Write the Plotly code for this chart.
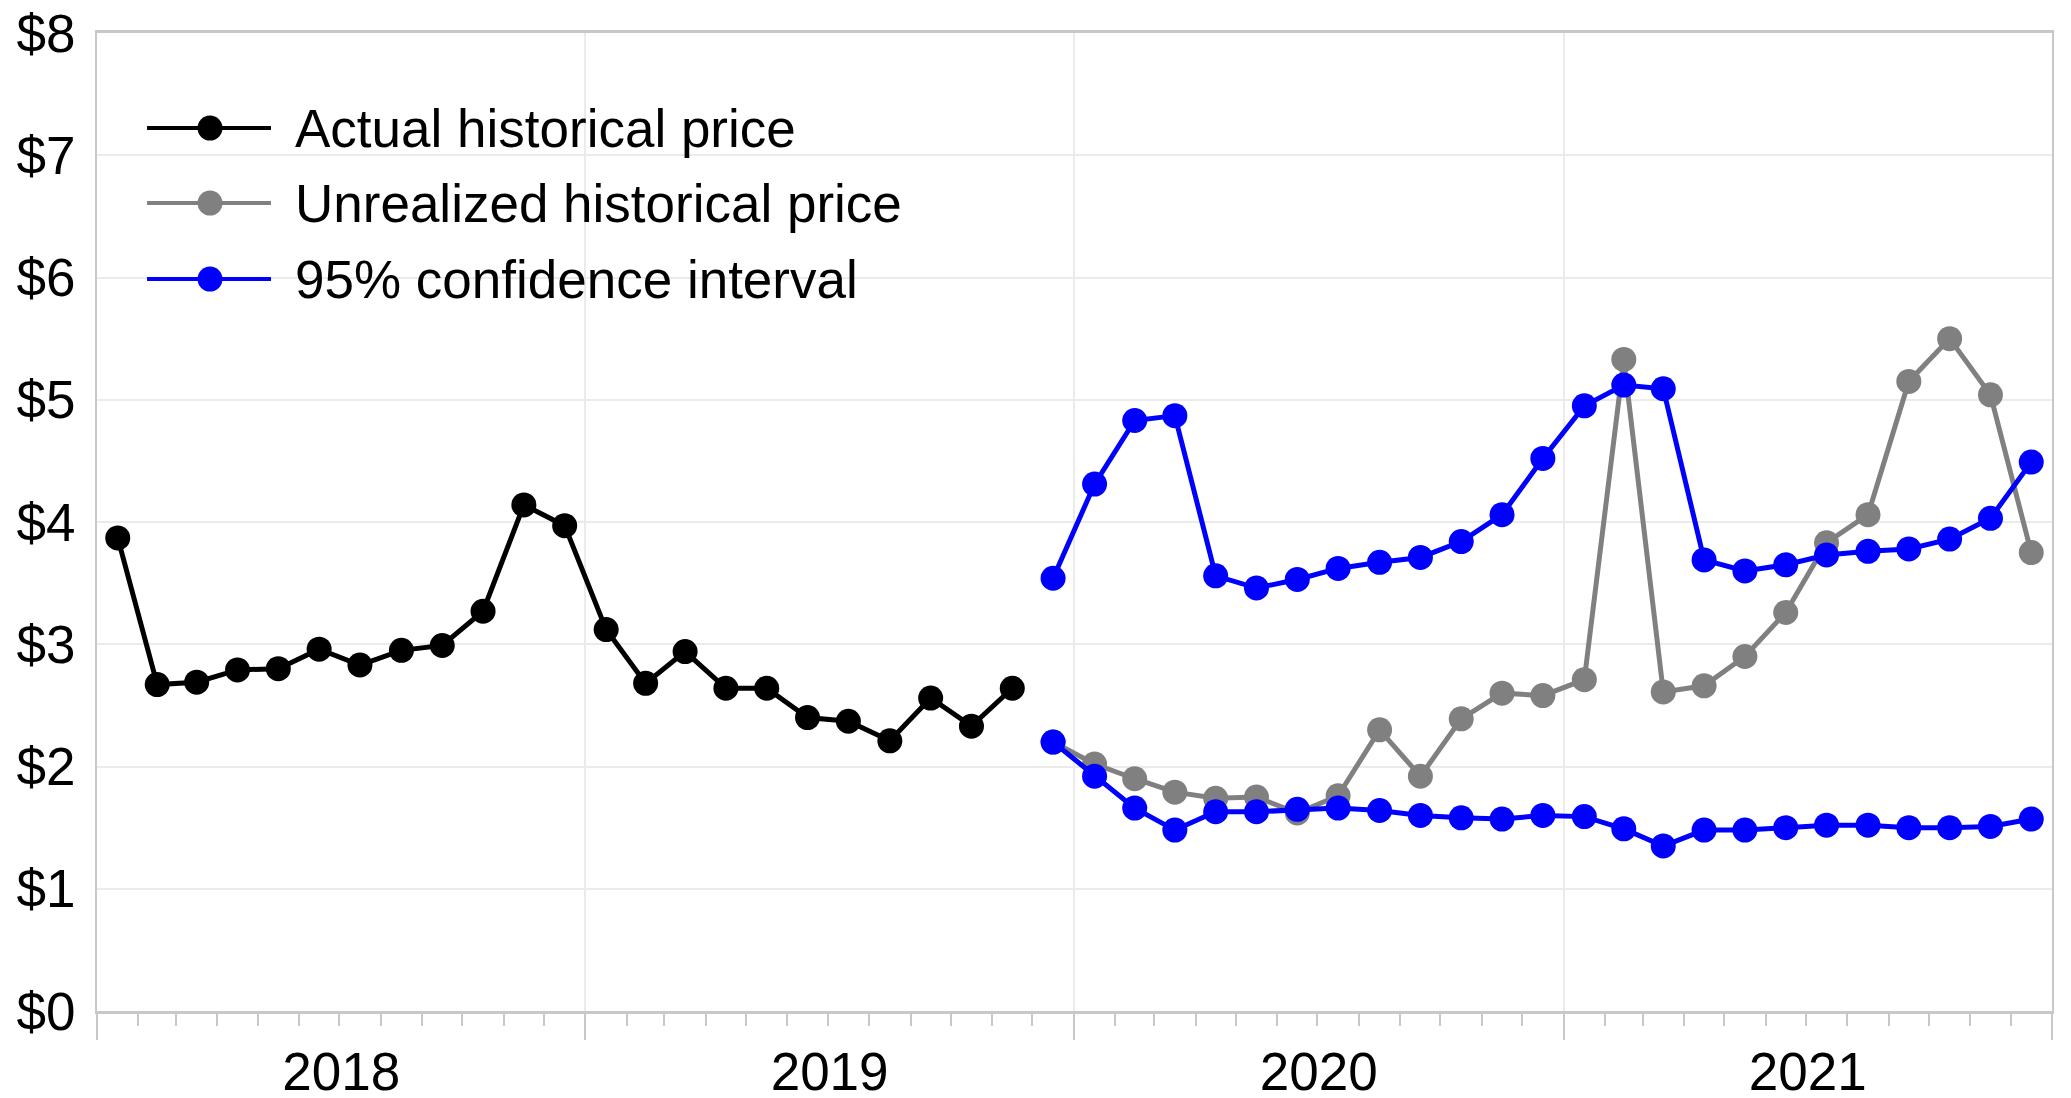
import plotly.graph_objects as go

# ---- data ----
actual_months = ["2018-01", "2018-02", "2018-03", "2018-04", "2018-05", "2018-06",
                 "2018-07", "2018-08", "2018-09", "2018-10", "2018-11", "2018-12",
                 "2019-01", "2019-02", "2019-03", "2019-04", "2019-05", "2019-06",
                 "2019-07", "2019-08", "2019-09", "2019-10", "2019-11"]
actual_price = [3.87, 2.67, 2.69, 2.79, 2.80, 2.96, 2.83, 2.95, 2.99, 3.27, 4.14, 3.97,
                3.12, 2.68, 2.94, 2.64, 2.64, 2.40, 2.37, 2.21, 2.56, 2.33, 2.64]

forecast_months = ["2019-12",
                   "2020-01", "2020-02", "2020-03", "2020-04", "2020-05", "2020-06",
                   "2020-07", "2020-08", "2020-09", "2020-10", "2020-11", "2020-12",
                   "2021-01", "2021-02", "2021-03", "2021-04", "2021-05", "2021-06",
                   "2021-07", "2021-08", "2021-09", "2021-10", "2021-11", "2021-12"]
unrealized_price = [2.20, 2.02, 1.90, 1.79, 1.74, 1.75, 1.62, 1.76, 2.30, 1.92, 2.39, 2.60,
                    2.58, 2.71, 5.33, 2.61, 2.66, 2.90, 3.26, 3.83, 4.06, 5.15, 5.50, 5.04, 3.75]
ci_upper = [3.54, 4.31, 4.83, 4.87, 3.56, 3.46, 3.53, 3.62, 3.67, 3.71, 3.84, 4.06,
            4.52, 4.95, 5.12, 5.09, 3.69, 3.60, 3.65, 3.73, 3.76, 3.78, 3.86, 4.03, 4.49]
ci_lower = [2.20, 1.92, 1.66, 1.48, 1.63, 1.63, 1.65, 1.66, 1.64, 1.60, 1.58, 1.57,
            1.60, 1.59, 1.49, 1.35, 1.48, 1.48, 1.50, 1.52, 1.52, 1.50, 1.50, 1.51, 1.57]

legend_labels = ["Actual historical price", "Unrealized historical price", "95% confidence interval"]
legend_colors = ["#000000", "#808080", "#0000ff"]

FONT = "Liberation Sans, Arial, sans-serif"
FS = 53

fig = go.Figure()


def add_series(x, y, color, name):
    fig.add_trace(go.Scatter(
        x=x, y=y, mode="lines+markers", name=name,
        xperiod="M1", xperiodalignment="middle",
        line=dict(color=color, width=5),
        marker=dict(color=color, size=25),
        showlegend=False,
    ))


add_series(actual_months, actual_price, legend_colors[0], legend_labels[0])
add_series(forecast_months, unrealized_price, legend_colors[1], legend_labels[1])
add_series(forecast_months, ci_upper, legend_colors[2], legend_labels[2])
add_series(forecast_months, ci_lower, legend_colors[2], legend_labels[2])

# ---- custom legend (long line samples) ----
leg_y = [0.9028, 0.8261, 0.7484]
line_x0, line_x1, mark_x, text_x = 0.0256, 0.0890, 0.0578, 0.1003
for lab, col, yy in zip(legend_labels, legend_colors, leg_y):
    fig.add_shape(type="line", xref="paper", yref="paper",
                  x0=line_x0, x1=line_x1, y0=yy, y1=yy,
                  line=dict(color=col, width=4))
    fig.add_shape(type="circle", xref="paper", yref="paper",
                  xsizemode="pixel", ysizemode="pixel",
                  xanchor=mark_x, yanchor=yy, x0=-12.5, x1=12.5, y0=-12.5, y1=12.5,
                  fillcolor=col, line=dict(color=col, width=0))
    fig.add_annotation(xref="paper", yref="paper", x=text_x, y=yy,
                       xanchor="left", yanchor="middle", showarrow=False,
                       text=lab, font=dict(family=FONT, size=FS, color="#000000"))

# page body adds an 8px offset; size/margins compensate for it
fig.update_layout(
    width=2063, height=1090,
    margin=dict(l=89, r=19, t=25, b=87, autoexpand=False),
    paper_bgcolor="white", plot_bgcolor="white",
    font=dict(family=FONT, size=FS, color="#000000"),
    xaxis=dict(
        type="date", range=["2018-01-01", "2022-01-01"], automargin=False,
        tick0="2018-01-01", dtick="M12", tickformat="%Y", ticklabelmode="period",
        ticks="outside", ticklen=26, tickwidth=1.5, tickcolor="#c8c8c8",
        showgrid=True, gridcolor="#ebebeb", gridwidth=1.5,
        showline=True, linecolor="#c8c8c8", linewidth=3, mirror=True,
        zeroline=False, ticklabelstandoff=-14, ticklabeloverflow="allow",
        minor=dict(dtick="M1", ticks="outside", ticklen=12, tickwidth=1.5,
                   tickcolor="#c8c8c8", showgrid=False),
    ),
    yaxis=dict(
        range=[0, 8], dtick=1, tick0=0, tickprefix="$", automargin=False,
        ticks="", showgrid=True, gridcolor="#ebebeb", gridwidth=1.5,
        showline=True, linecolor="#c8c8c8", linewidth=2, mirror=True,
        zeroline=False, ticklabelstandoff=9, ticklabeloverflow="allow",
    ),
)

fig.write_html("out.html")
